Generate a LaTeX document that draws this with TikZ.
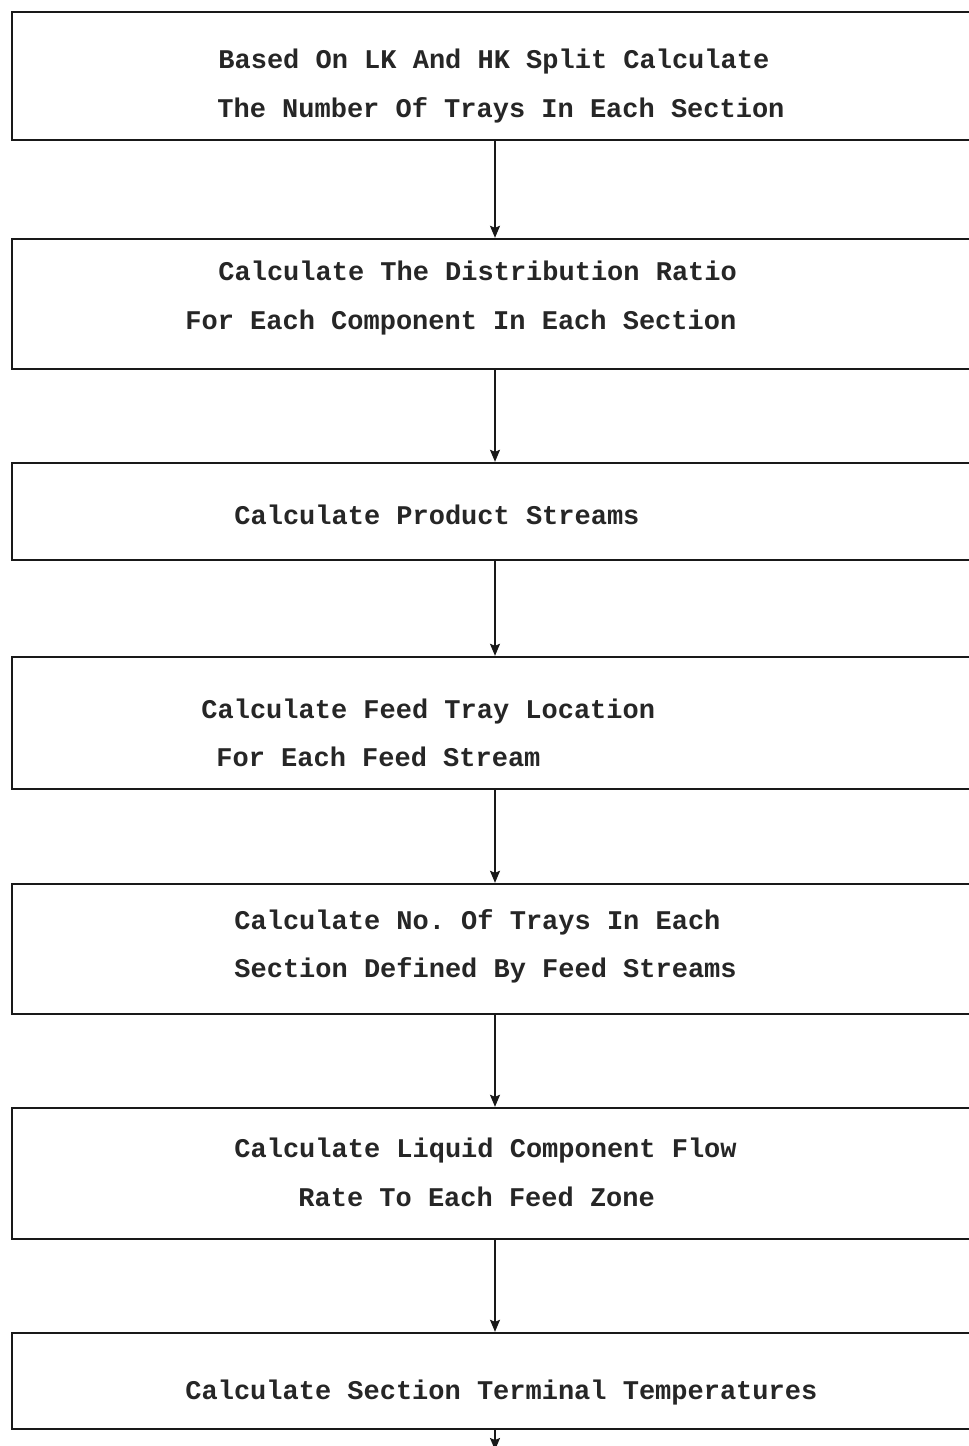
\documentclass[tikz,border=0pt]{standalone}
\usepackage{fontspec}
\setmonofont{Liberation Mono}
\usetikzlibrary{arrows.meta}
\begin{document}
\begin{tikzpicture}[x=0.5pt,y=-0.5pt,
  box/.style={draw=black!90, line width=1.2pt, minimum width=486.5pt, inner sep=0pt, fill=none},
  txt/.style={anchor=base west, inner sep=0pt, font=\fontsize{13.5pt}{16pt}\ttfamily\bfseries, text=black!85},
  flow/.style={draw=black!90, line width=0.75pt, -{Stealth[length=6pt,width=5pt,inset=1pt]}}]
\useasboundingbox[fill=white] (0,0) rectangle (969,1446);
\coordinate (ax) at (495,0);
% boxes (open past the right edge)
\node[box, minimum height=64pt] (b1) at (498.5,76) {};
\node[box, minimum height=65pt] (b2) at (498.5,304) {};
\node[box, minimum height=48.5pt] (b3) at (498.5,511.5) {};
\node[box, minimum height=66pt] (b4) at (498.5,723) {};
\node[box, minimum height=65pt] (b5) at (498.5,949) {};
\node[box, minimum height=65.5pt] (b6) at (498.5,1173.5) {};
\node[box, minimum height=48pt] (b7) at (498.5,1381) {};
% texts
\node[txt] (t1a) at (218,68) {Based On LK And HK Split Calculate};
\node[txt] (t1b) at (217,117) {The Number Of Trays In Each Section};
\node[txt] (t2a) at (218,280) {Calculate The Distribution Ratio};
\node[txt] (t2b) at (185,329) {For Each Component In Each Section};
\node[txt] (t3) at (234,524) {Calculate Product Streams};
\node[txt] (t4a) at (201,718) {Calculate Feed Tray Location};
\node[txt] (t4b) at (216,766) {For Each Feed Stream};
\node[txt] (t5a) at (234,929) {Calculate No. Of Trays In Each};
\node[txt] (t5b) at (234,977) {Section Defined By Feed Streams};
\node[txt] (t6a) at (234,1157) {Calculate Liquid Component Flow};
\node[txt] (t6b) at (298,1206) {Rate To Each Feed Zone};
\node[txt] (t7) at (185,1399) {Calculate Section Terminal Temperatures};
% connectors
\coordinate (end) at (495,1450);
\draw[flow] (b1.south -| ax) -- (b2.north -| ax);
\draw[flow] (b2.south -| ax) -- (b3.north -| ax);
\draw[flow] (b3.south -| ax) -- (b4.north -| ax);
\draw[flow] (b4.south -| ax) -- (b5.north -| ax);
\draw[flow] (b5.south -| ax) -- (b6.north -| ax);
\draw[flow] (b6.south -| ax) -- (b7.north -| ax);
\draw[flow] (b7.south -| ax) -- (end);
\end{tikzpicture}
\end{document}
